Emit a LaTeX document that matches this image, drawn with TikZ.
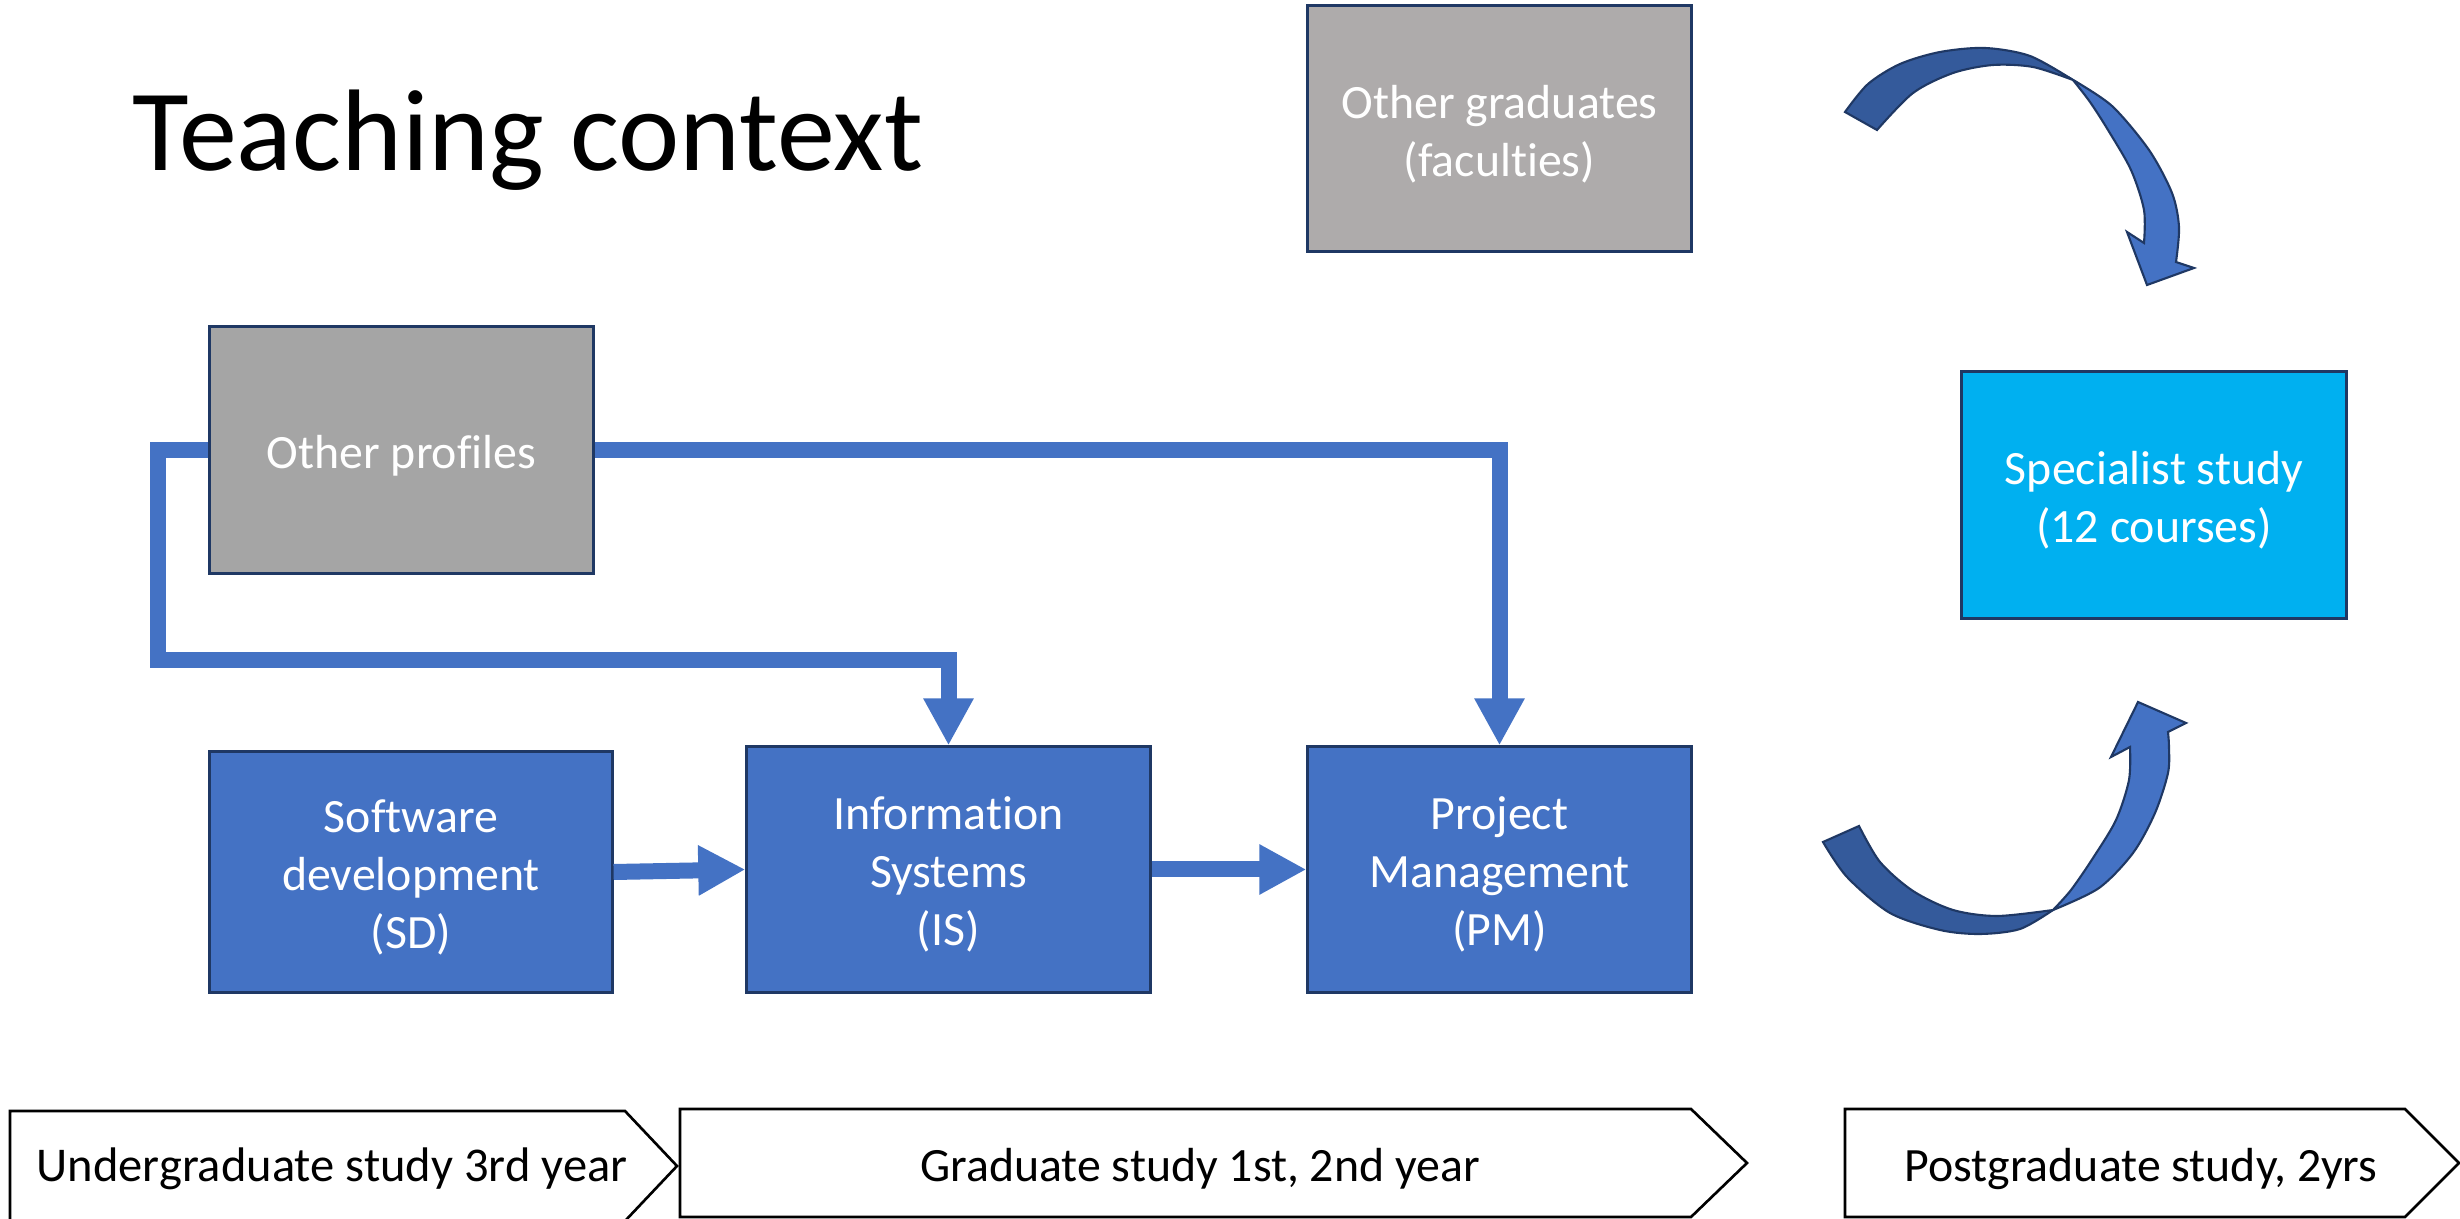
\documentclass[tikz,border=0pt]{standalone}
\usepackage{fontspec}
\setmainfont{Carlito}[Ligatures=NoCommon]
\usetikzlibrary{arrows.meta}
\definecolor{boxblue}{HTML}{4472C4}
\definecolor{outl}{HTML}{1F3864}
\definecolor{grayA}{HTML}{A5A5A5}
\definecolor{grayB}{HTML}{AEABAB}
\definecolor{cyanbox}{HTML}{00B0F0}
\definecolor{darkband}{HTML}{345A9B}
\newcommand{\boxfont}{\fontsize{13.6pt}{16.5pt}\selectfont}
\newcommand{\firstphasefont}{\fontsize{13.8pt}{16.5pt}\selectfont}
\newcommand{\titlefont}{\fontsize{33pt}{38pt}\selectfont}
\begin{document}
\begin{tikzpicture}[x=0.01cm,y=-0.01cm,
  box/.style={draw=outl,line width=0.85pt,inner sep=0pt},
  boxtext/.style={align=center,text=white,font=\boxfont,inner sep=0pt,yshift=-1.5pt},
  conn/.style={draw=boxblue,line width=4.55pt,-{Triangle[length=13.4pt,width=13.4pt]}},
  phase/.style={draw=black,line width=0.75pt,fill=white},
  phasetext/.style={anchor=base,font=\boxfont,text=black,inner sep=0pt},
  bandfront/.style={fill=boxblue,draw=outl,line width=0.6pt,line join=miter},
  bandback/.style={fill=darkband,draw=outl,line width=0.6pt,line join=miter}]
\useasboundingbox (0,0) rectangle (2460,1219);
\clip (0,0) rectangle (2460,1219);
\fill[white] (0,0) rectangle (2460,1219);

% title
\node[anchor=base west,inner sep=0pt,font=\titlefont] (title) at (132,171) {Teaching context};

% boxes
\node[box,fill=grayB,minimum width=3.83cm,minimum height=2.45cm,
  label={[boxtext]center:Other graduates\\(faculties)}] (og) at (1499.5,128.5) {};
\node[box,fill=grayA,minimum width=3.83cm,minimum height=2.46cm,
  label={[boxtext]center:Other profiles}] (op) at (401.5,450) {};
\node[box,fill=boxblue,minimum width=4.02cm,minimum height=2.40cm,
  label={[boxtext]center:Software\\development\\(SD)}] (sd) at (411,872) {};
\node[box,fill=boxblue,minimum width=4.03cm,minimum height=2.45cm,
  label={[boxtext]center:Information\\Systems\\(IS)}] (is) at (948.5,869.5) {};
\node[box,fill=boxblue,minimum width=3.83cm,minimum height=2.45cm,
  label={[boxtext]center:Project\\Management\\(PM)}] (pm) at (1499.5,869.5) {};
\node[box,fill=cyanbox,minimum width=3.84cm,minimum height=2.46cm,
  label={[boxtext]center:Specialist study\\(12 courses)}] (sp) at (2154,495) {};

% connectors
\coordinate (lk) at (158,660);
\draw[conn] (sd.east) -- (is.west);
\draw[conn] (is.east) -- (pm.west);
\draw[conn] (op.west) -| (lk) -| (is.north);
\draw[conn] (op.east) -| (pm.north);

% top curved arrow
\draw[bandback] plot[smooth] coordinates {(1845,112) (1868,84) (1900,64) (1940,52) (1985,48) (2030,56) (2073,80)}
  -- plot[smooth] coordinates {(2073,80) (2033,67) (1993,65) (1953,73) (1913,93) (1877,130)} -- cycle;
\draw[bandfront] plot[smooth] coordinates {(2073,80) (2112,106) (2149,150) (2172,193) (2179,227) (2176,262)}
  -- (2194,268) -- (2147,285) -- (2127,232)
  -- plot[smooth] coordinates {(2144,243) (2144,210) (2131,170) (2108,130) (2090,102) (2073,80)} -- cycle;

% bottom curved arrow
\draw[bandback] plot[smooth] coordinates {(1823,842) (1847,877) (1890,913) (1940,930) (1980,934) (2020,929) (2053,910)}
  -- plot[smooth] coordinates {(2053,910) (1997,916) (1953,910) (1913,891) (1880,862) (1859,826)} -- cycle;
\draw[bandfront] plot[smooth] coordinates {(2053,910) (2099,888) (2133,853) (2155,813) (2168,773) (2169,747) (2168,732)}
  -- (2186,723) -- (2138,702) -- (2111,757)
  -- plot[smooth] coordinates {(2130,747) (2129,780) (2116,820) (2093,858) (2071,890) (2053,910)} -- cycle;

% phases
\draw[phase] (10,1111) -- (625,1111) -- (677,1166) -- (625,1221) -- (10,1221) -- cycle;
\draw[phase] (680,1109) -- (1691,1109) -- (1747,1163) -- (1691,1217) -- (680,1217) -- cycle;
\draw[phase] (1845,1109) -- (2405,1109) -- (2459,1163) -- (2405,1217) -- (1845,1217) -- cycle;
\node[phasetext,font=\firstphasefont] (p1) at (332,1181) {Undergraduate study 3rd year};
\node[phasetext] (p2) at (1200,1181) {Graduate study 1st, 2nd year};
\node[phasetext] (p3) at (2141,1181) {Postgraduate study, 2yrs};
\end{tikzpicture}
\end{document}
